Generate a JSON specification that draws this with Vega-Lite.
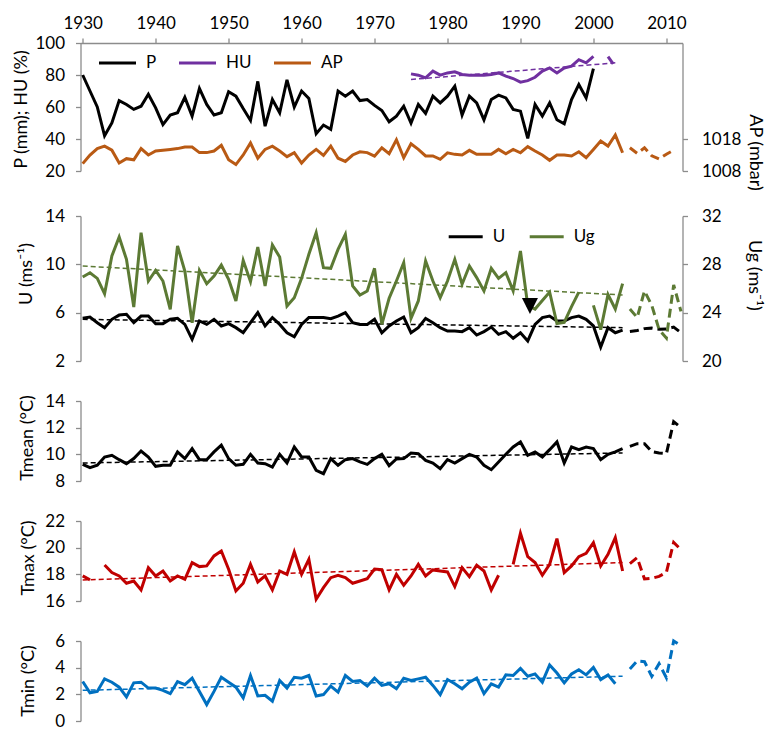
{
"$schema":"https://vega.github.io/schema/vega-lite/v6.json",
"background":"white",
"padding":{"left":11.5,"top":14,"right":5,"bottom":0},
"autosize":{"type":"pad"},
"config":{"font":"Lato","view":{"stroke":null},
"axis":{"domainColor":"#8c8c8c","tickColor":"#8c8c8c","domainWidth":1.3,"tickWidth":1.3,"tickSize":5,"labelFont":"Lato","labelFontSize":17,"labelColor":"#000000","titleFont":"Lato","titleFontSize":18,"titleFontWeight":"normal","titleColor":"#000000","grid":false,"labelFlush":false,"labelOverlap":false}},
"datasets":{"d":[
{"yr":1930,"P":80,"AP":1010.3,"U":5.53,"Ug":26.95,"Tm":9.25,"Tx":17.88,"Tn":2.96,"Ut":5.45,"Ugt":27.86,"Tmt":9.35,"Txt":17.58,"Tnt":2.3},
{"yr":1931,"P":70,"AP":1013,"U":5.64,"Ug":27.3,"Tm":9.0,"Tx":17.58,"Tn":2.12},
{"yr":1932,"P":60,"AP":1015,"U":5.17,"Ug":26.84,"Tm":9.18,"Tx":null,"Tn":2.22},
{"yr":1933,"P":42,"AP":1015.75,"U":4.76,"Ug":25.57,"Tm":9.8,"Tx":18.7,"Tn":3.16},
{"yr":1934,"P":50,"AP":1014.5,"U":5.45,"Ug":28.69,"Tm":9.93,"Tx":18.13,"Tn":2.91},
{"yr":1935,"P":64,"AP":1010.5,"U":5.8,"Ug":30.26,"Tm":9.6,"Tx":17.88,"Tn":2.54},
{"yr":1936,"P":61.6,"AP":1011.85,"U":5.86,"Ug":28.41,"Tm":9.3,"Tx":17.33,"Tn":1.8},
{"yr":1937,"P":58.5,"AP":1011.5,"U":5.17,"Ug":24.47,"Tm":9.68,"Tx":17.5,"Tn":2.86},
{"yr":1938,"P":60.5,"AP":1015,"U":5.72,"Ug":30.62,"Tm":10.25,"Tx":16.83,"Tn":2.91},
{"yr":1939,"P":68,"AP":1013,"U":5.72,"Ug":26.62,"Tm":9.8,"Tx":18.5,"Tn":2.47},
{"yr":1940,"P":59.5,"AP":1014.25,"U":5.09,"Ug":27.5,"Tm":9.1,"Tx":17.88,"Tn":2.47},
{"yr":1941,"P":49,"AP":1014.5,"U":5.09,"Ug":26.62,"Tm":9.18,"Tx":18.25,"Tn":2.3},
{"yr":1942,"P":55,"AP":1014.75,"U":5.45,"Ug":24.28,"Tm":9.18,"Tx":17.5,"Tn":2.05},
{"yr":1943,"P":56.4,"AP":1015,"U":5.53,"Ug":29.52,"Tm":10.18,"Tx":17.88,"Tn":2.96},
{"yr":1944,"P":66,"AP":1015.5,"U":5.03,"Ug":27.45,"Tm":9.68,"Tx":17.63,"Tn":2.72},
{"yr":1945,"P":54.3,"AP":1015.5,"U":3.79,"Ug":23.17,"Tm":10.43,"Tx":18.88,"Tn":3.21},
{"yr":1946,"P":71.6,"AP":1013.75,"U":5.31,"Ug":27.5,"Tm":9.6,"Tx":18.58,"Tn":2.22},
{"yr":1947,"P":61.6,"AP":1013.75,"U":5.03,"Ug":26.4,"Tm":9.6,"Tx":18.63,"Tn":1.23},
{"yr":1948,"P":55,"AP":1014.25,"U":5.45,"Ug":27.03,"Tm":10.18,"Tx":19.38,"Tn":2.22},
{"yr":1949,"P":56.4,"AP":1016,"U":4.9,"Ug":27.94,"Tm":10.68,"Tx":19.75,"Tn":3.28},
{"yr":1950,"P":69.5,"AP":1011.5,"U":5.09,"Ug":26.76,"Tm":9.68,"Tx":18.38,"Tn":2.91},
{"yr":1951,"P":66.8,"AP":1010,"U":4.76,"Ug":24.97,"Tm":9.18,"Tx":16.75,"Tn":2.54},
{"yr":1952,"P":59,"AP":1013,"U":4.34,"Ug":28.33,"Tm":9.25,"Tx":17.33,"Tn":1.73},
{"yr":1953,"P":51.6,"AP":1016.75,"U":5.17,"Ug":26.57,"Tm":10.0,"Tx":18.75,"Tn":3.41},
{"yr":1954,"P":76,"AP":1012,"U":6.0,"Ug":29.43,"Tm":9.35,"Tx":17.43,"Tn":1.88},
{"yr":1955,"P":48,"AP":1014.75,"U":4.9,"Ug":26.21,"Tm":9.3,"Tx":17.88,"Tn":1.93},
{"yr":1956,"P":64.7,"AP":1015.75,"U":5.59,"Ug":29.6,"Tm":9.05,"Tx":16.83,"Tn":1.48},
{"yr":1957,"P":56.4,"AP":1014.25,"U":5.03,"Ug":28.6,"Tm":10.0,"Tx":18.25,"Tn":3.04},
{"yr":1958,"P":77,"AP":1012.5,"U":4.34,"Ug":24.55,"Tm":9.35,"Tx":18.0,"Tn":2.47},
{"yr":1959,"P":60,"AP":1013.75,"U":4.01,"Ug":25.24,"Tm":10.55,"Tx":19.68,"Tn":3.28},
{"yr":1960,"P":70,"AP":1010.5,"U":5.03,"Ug":26.84,"Tm":9.8,"Tx":18.0,"Tn":3.21},
{"yr":1961,"P":65.3,"AP":1013,"U":5.59,"Ug":28.83,"Tm":9.8,"Tx":19.13,"Tn":3.41},
{"yr":1962,"P":43.3,"AP":1014.75,"U":5.59,"Ug":30.62,"Tm":8.8,"Tx":16.13,"Tn":1.88},
{"yr":1963,"P":48.7,"AP":1012.9,"U":5.59,"Ug":27.72,"Tm":8.55,"Tx":17.0,"Tn":1.98},
{"yr":1964,"P":46,"AP":1015.8,"U":5.5,"Ug":27.67,"Tm":9.68,"Tx":17.75,"Tn":2.62},
{"yr":1965,"P":70,"AP":1012,"U":5.72,"Ug":29.24,"Tm":9.18,"Tx":17.93,"Tn":2.17},
{"yr":1966,"P":66.8,"AP":1011,"U":6.0,"Ug":30.48,"Tm":9.6,"Tx":17.75,"Tn":3.41},
{"yr":1967,"P":70,"AP":1013,"U":5.17,"Ug":26.21,"Tm":9.68,"Tx":17.33,"Tn":2.96},
{"yr":1968,"P":64,"AP":1014,"U":5.03,"Ug":25.46,"Tm":9.43,"Tx":17.5,"Tn":3.04},
{"yr":1969,"P":64.7,"AP":1013.75,"U":5.03,"Ug":25.79,"Tm":9.25,"Tx":17.68,"Tn":2.62},
{"yr":1970,"P":61,"AP":1012.65,"U":5.45,"Ug":27.67,"Tm":9.68,"Tx":18.4,"Tn":3.21},
{"yr":1971,"P":57.8,"AP":1015.25,"U":4.34,"Ug":23.03,"Tm":10.0,"Tx":18.35,"Tn":2.67},
{"yr":1972,"P":50.8,"AP":1013.4,"U":4.9,"Ug":25.19,"Tm":9.15,"Tx":16.83,"Tn":2.8},
{"yr":1973,"P":54.3,"AP":1017.75,"U":5.31,"Ug":26.62,"Tm":9.65,"Tx":18.0,"Tn":2.42},
{"yr":1974,"P":60.5,"AP":1012.15,"U":5.64,"Ug":28.14,"Tm":9.68,"Tx":17.18,"Tn":3.21},
{"yr":1975,"P":50,"AP":1016.5,"HU":80.7,"HUt":77.2,"U":4.34,"Ug":23.53,"Tm":10.1,"Tx":17.88,"Tn":3.04},
{"yr":1976,"P":61.6,"AP":1014.75,"HU":79.9,"U":4.76,"Ug":24.97,"Tm":10.05,"Tx":18.75,"Tn":3.16},
{"yr":1977,"P":56,"AP":1012.7,"HU":78.2,"U":5.53,"Ug":28.28,"Tm":9.55,"Tx":17.88,"Tn":3.28},
{"yr":1978,"P":66.8,"AP":1012.7,"HU":82.4,"U":5.17,"Ug":26.62,"Tm":9.35,"Tx":18.33,"Tn":2.67},
{"yr":1979,"P":62.6,"AP":1011.65,"HU":79.9,"U":4.76,"Ug":25.24,"Tm":8.93,"Tx":18.25,"Tn":1.98},
{"yr":1980,"P":66.8,"AP":1013.7,"HU":81.3,"U":4.48,"Ug":26.62,"Tm":9.6,"Tx":18.18,"Tn":3.11},
{"yr":1981,"P":73,"AP":1013.2,"HU":82,"U":4.48,"Ug":28.41,"Tm":9.35,"Tx":17.08,"Tn":2.79},
{"yr":1982,"P":55,"AP":1013,"HU":80.3,"U":4.43,"Ug":26.35,"Tm":9.68,"Tx":18.5,"Tn":2.42},
{"yr":1983,"P":66.8,"AP":1014.45,"HU":79.9,"U":4.76,"Ug":27.86,"Tm":10.0,"Tx":17.83,"Tn":2.91},
{"yr":1984,"P":62.6,"AP":1013.2,"HU":79.9,"U":4.15,"Ug":26.9,"Tm":9.8,"Tx":18.68,"Tn":3.21},
{"yr":1985,"P":52,"AP":1013.2,"HU":79.9,"U":4.43,"Ug":25.79,"Tm":9.18,"Tx":18.25,"Tn":2.05},
{"yr":1986,"P":64.7,"AP":1013.2,"HU":80.3,"U":4.81,"Ug":27.67,"Tm":8.85,"Tx":16.83,"Tn":2.79},
{"yr":1987,"P":67.4,"AP":1014.75,"HU":81.3,"U":4.21,"Ug":26.84,"Tm":9.43,"Tx":17.93,"Tn":2.54},
{"yr":1988,"P":65.7,"AP":1013.4,"HU":79.3,"U":4.43,"Ug":27.31,"Tm":10.0,"Tx":null,"Tn":3.46},
{"yr":1989,"P":58.5,"AP":1014.75,"HU":77.8,"U":3.88,"Ug":25.8,"Tm":10.55,"Tx":18.75,"Tn":3.41},
{"yr":1990,"P":57.4,"AP":1013.7,"HU":75.5,"U":4.34,"Ug":29.1,"Tm":10.93,"Tx":21.08,"Tn":3.95},
{"yr":1991,"P":40.4,"AP":1015.6,"HU":76.5,"U":3.66,"Ug":24.6,"Tm":9.93,"Tx":19.33,"Tn":3.36},
{"yr":1992,"P":61.6,"AP":1014.25,"HU":78.6,"U":5.03,"Ug":24.3,"Tm":10.18,"Tx":18.88,"Tn":3.53},
{"yr":1993,"P":54.3,"AP":1013,"HU":82.4,"U":5.59,"Ug":25.0,"Tm":9.8,"Tx":17.93,"Tn":2.91},
{"yr":1994,"P":62.6,"AP":1011.35,"HU":84.4,"U":5.72,"Ug":25.7,"Tm":10.35,"Tx":18.75,"Tn":4.2},
{"yr":1995,"P":52,"AP":1013,"HU":81.3,"U":5.31,"Ug":23.1,"Tm":10.93,"Tx":20.68,"Tn":3.6},
{"yr":1996,"P":49.5,"AP":1013,"HU":84.4,"U":5.31,"Ug":23.2,"Tm":9.35,"Tx":18.13,"Tn":2.86},
{"yr":1997,"P":64.7,"AP":1012.7,"HU":85.5,"U":5.59,"Ug":24.5,"Tm":10.55,"Tx":18.63,"Tn":3.53},
{"yr":1998,"P":74,"AP":1014,"HU":89.6,"U":5.72,"Ug":25.7,"Tm":10.35,"Tx":19.33,"Tn":3.85},
{"yr":1999,"P":65.7,"AP":1012.15,"HU":87.6,"U":5.45,"Ug":null,"Tm":10.55,"Tx":19.58,"Tn":3.46},
{"yr":2000,"P":84,"AP":1014.75,"HU":91.7,"U":4.9,"Ug":24.6,"Tm":10.43,"Tx":20.38,"Tn":4.02},
{"yr":2001,"AP":1017.35,"U":3.16,"Ug":22.6,"Tm":9.6,"Tx":18.63,"Tn":3.11},
{"yr":2002,"AP":1015.8,"HUe":91.5,"U":4.76,"Ug":25.5,"Tm":10.0,"Tx":19.5,"Tn":3.46},
{"yr":2003,"AP":1019.25,"HUe":85,"HUt":87.6,"U":4.34,"Ug":24.3,"Tm":10.18,"Tx":20.75,"Tn":2.79},
{"yr":2004,"AP":1013.7,"U":4.55,"Ug":26.4,"Tm":10.43,"Tx":18.25,"Ut":4.76,"Ugt":25.46,"Tmt":10.1,"Txt":18.88,"Tnt":3.36},
{"yr":2005,"APe":1015.25,"Ue":4.45,"Uge":24.3,"Tme":10.6,"Txe":18.8,"Tne":3.9},
{"yr":2006,"APe":1013.5,"Ue":4.52,"Uge":23.6,"Tme":10.8,"Txe":19.25,"Tne":4.5},
{"yr":2007,"APe":1015.25,"Ue":4.68,"Uge":25.8,"Tme":10.8,"Txe":17.65,"Tne":4.45},
{"yr":2008,"APe":1012.75,"Ue":4.72,"Uge":24.6,"Tme":10.2,"Txe":17.7,"Tne":3.35},
{"yr":2009,"APe":1011.75,"Ue":4.62,"Uge":22.6,"Tme":10.1,"Txe":17.85,"Tne":4.3},
{"yr":2010,"APe":1013.25,"Ue":4.65,"Uge":21.9,"Tme":10.05,"Txe":18.15,"Tne":3.25},
{"yr":2011,"APe":1014.5,"Ue":4.8,"Uge":26.3,"Tme":12.45,"Txe":20.4,"Tne":6.0},
{"yr":2012,"Ue":4.35,"Uge":24.1,"Tme":12.0,"Txe":19.85,"Tne":5.65}
]},
"data":{"name":"d"},
"spacing":45,
"bounds":"flush",
"resolve":{"scale":{"color":"independent"},"legend":{"color":"independent"}},
"vconcat":[
{
"width":602,"height":128,
"encoding":{"x":{"field":"yr","type":"quantitative","scale":{"domain":[1929.7,2012.21],"nice":false,"zero":false},"axis":{"orient":"top","values":[1930,1940,1950,1960,1970,1980,1990,2000,2010],"format":"d","title":null,"labelPadding":6}}},
"resolve":{"scale":{"y":"independent"}},
"layer":[
{"layer":[
{"mark":{"type":"line","strokeWidth":3,"invalid":"break-paths-show-domains"},
"encoding":{"y":{"field":"P","type":"quantitative","scale":{"domain":[20,100],"nice":false,"zero":false},"axis":{"orient":"left","values":[20,40,60,80,100],"title":"P (mm); HU (%)","titleAngle":-90,"titleX":-59.5,"titleY":66,"titleBaseline":"middle","labelPadding":11}},
"color":{"datum":"P","scale":{"domain":["P","HU","AP"],"range":["#000000","#7030A0","#B95A14"]},"legend":{"title":null,"orient":"none","legendX":17,"legendY":0,"direction":"horizontal","gridAlign":"each","symbolType":"stroke","symbolSize":1369,"symbolStrokeWidth":3,"labelFont":"Lato","labelFontSize":17,"labelColor":"#000000","labelOffset":8.5,"columnPadding":16,"padding":0}}}},
{"mark":{"type":"line","strokeWidth":3,"invalid":"break-paths-show-domains"},
"encoding":{"y":{"field":"HU","type":"quantitative","scale":{"domain":[20,100],"nice":false,"zero":false},"axis":{"orient":"left","values":[20,40,60,80,100],"title":"P (mm); HU (%)","titleAngle":-90,"titleX":-59.5,"titleY":66,"titleBaseline":"middle","labelPadding":11}},
"color":{"datum":"HU","scale":{"domain":["P","HU","AP"],"range":["#000000","#7030A0","#B95A14"]},"legend":null}}},
{"mark":{"type":"line","strokeWidth":3,"strokeDash":[9,5],"invalid":"break-paths-show-domains"},
"encoding":{"y":{"field":"HUe","type":"quantitative","scale":{"domain":[20,100],"nice":false,"zero":false},"axis":{"orient":"left","values":[20,40,60,80,100],"title":"P (mm); HU (%)","titleAngle":-90,"titleX":-59.5,"titleY":66,"titleBaseline":"middle","labelPadding":11}},
"color":{"datum":"HU","scale":{"domain":["P","HU","AP"],"range":["#000000","#7030A0","#B95A14"]},"legend":null}}},
{"mark":{"type":"line","strokeWidth":1.5,"strokeDash":[5,3],"invalid":"filter"},
"encoding":{"y":{"field":"HUt","type":"quantitative","scale":{"domain":[20,100],"nice":false,"zero":false},"axis":{"orient":"left","values":[20,40,60,80,100],"title":"P (mm); HU (%)","titleAngle":-90,"titleX":-59.5,"titleY":66,"titleBaseline":"middle","labelPadding":11}},
"color":{"datum":"HU","scale":{"domain":["P","HU","AP"],"range":["#000000","#7030A0","#B95A14"]},"legend":null}}}
]},
{"layer":[
{"mark":{"type":"line","strokeWidth":3,"invalid":"break-paths-show-domains"},
"encoding":{"y":{"field":"AP","type":"quantitative","scale":{"domain":[1008,1048],"nice":false,"zero":false},"axis":{"orient":"right","values":[1008,1018],"format":"d","title":"AP (mbar)","titleAngle":90,"titleX":72,"titleY":109,"titleBaseline":"middle","labelPadding":14}},
"color":{"datum":"AP","scale":{"domain":["P","HU","AP"],"range":["#000000","#7030A0","#B95A14"]},"legend":null}}},
{"mark":{"type":"line","strokeWidth":3,"strokeDash":[9,5],"invalid":"break-paths-show-domains"},
"encoding":{"y":{"field":"APe","type":"quantitative","scale":{"domain":[1008,1048],"nice":false,"zero":false},"axis":{"orient":"right","values":[1008,1018],"format":"d","title":"AP (mbar)","titleAngle":90,"titleX":72,"titleY":109,"titleBaseline":"middle","labelPadding":14}},
"color":{"datum":"AP","scale":{"domain":["P","HU","AP"],"range":["#000000","#7030A0","#B95A14"]},"legend":null}}}
]}
]
},
{
"spacing":40,
"bounds":"flush",
"resolve":{"scale":{"color":"independent"},"legend":{"color":"independent"}},
"vconcat":[
{
"width":602,"height":145,
"encoding":{"x":{"field":"yr","type":"quantitative","scale":{"domain":[1929.7,2012.21],"nice":false,"zero":false},"axis":null}},
"resolve":{"scale":{"y":"independent"}},
"layer":[
{"layer":[
{"mark":{"type":"line","strokeWidth":3,"invalid":"break-paths-show-domains"},
"encoding":{"y":{"field":"U","type":"quantitative","scale":{"domain":[2,14],"nice":false,"zero":false},"axis":{"orient":"left","values":[2,6,10,14],"title":"U (ms⁻¹)","titleAngle":-90,"titleX":-54.2,"titleY":57.5,"titleBaseline":"middle","labelPadding":11}},
"color":{"datum":"U","scale":{"domain":["U","Ug"],"range":["#000000","#5C7A34"]},"legend":{"title":null,"orient":"none","legendX":366.7,"legendY":2,"direction":"horizontal","gridAlign":"each","symbolType":"stroke","symbolSize":1156,"symbolStrokeWidth":3,"labelFont":"Lato","labelFontSize":17,"labelColor":"#000000","labelOffset":8.5,"columnPadding":17,"padding":0}}}},
{"mark":{"type":"line","strokeWidth":3,"strokeDash":[9,5],"invalid":"break-paths-show-domains"},
"encoding":{"y":{"field":"Ue","type":"quantitative","scale":{"domain":[2,14],"nice":false,"zero":false},"axis":{"orient":"left","values":[2,6,10,14],"title":"U (ms⁻¹)","titleAngle":-90,"titleX":-54.2,"titleY":57.5,"titleBaseline":"middle","labelPadding":11}},
"color":{"datum":"U","scale":{"domain":["U","Ug"],"range":["#000000","#5C7A34"]},"legend":null}}},
{"mark":{"type":"line","strokeWidth":1.5,"strokeDash":[5,3],"invalid":"filter"},
"encoding":{"y":{"field":"Ut","type":"quantitative","scale":{"domain":[2,14],"nice":false,"zero":false},"axis":{"orient":"left","values":[2,6,10,14],"title":"U (ms⁻¹)","titleAngle":-90,"titleX":-54.2,"titleY":57.5,"titleBaseline":"middle","labelPadding":11}},
"color":{"datum":"U","scale":{"domain":["U","Ug"],"range":["#000000","#5C7A34"]},"legend":null}}}
]},
{"layer":[
{"mark":{"type":"line","strokeWidth":3,"invalid":"break-paths-show-domains"},
"encoding":{"y":{"field":"Ug","type":"quantitative","scale":{"domain":[20,32],"nice":false,"zero":false},"axis":{"orient":"right","values":[20,24,28,32],"title":"Ug (ms⁻¹)","titleAngle":90,"titleX":70.5,"titleY":59,"titleBaseline":"middle","labelPadding":14}},
"color":{"datum":"Ug","scale":{"domain":["U","Ug"],"range":["#000000","#5C7A34"]},"legend":null}}},
{"mark":{"type":"line","strokeWidth":3,"strokeDash":[9,5],"invalid":"break-paths-show-domains"},
"encoding":{"y":{"field":"Uge","type":"quantitative","scale":{"domain":[20,32],"nice":false,"zero":false},"axis":{"orient":"right","values":[20,24,28,32],"title":"Ug (ms⁻¹)","titleAngle":90,"titleX":70.5,"titleY":59,"titleBaseline":"middle","labelPadding":14}},
"color":{"datum":"Ug","scale":{"domain":["U","Ug"],"range":["#000000","#5C7A34"]},"legend":null}}},
{"mark":{"type":"line","strokeWidth":1.5,"strokeDash":[5,3],"invalid":"filter"},
"encoding":{"y":{"field":"Ugt","type":"quantitative","scale":{"domain":[20,32],"nice":false,"zero":false},"axis":{"orient":"right","values":[20,24,28,32],"title":"Ug (ms⁻¹)","titleAngle":90,"titleX":70.5,"titleY":59,"titleBaseline":"middle","labelPadding":14}},
"color":{"datum":"Ug","scale":{"domain":["U","Ug"],"range":["#000000","#5C7A34"]},"legend":null}}},
{"data":{"values":[{"yr":1991.3,"Ug":24.55}]},
"mark":{"type":"point","shape":"M-1,-1L1,-1L0,1Z","size":256,"filled":true,"color":"#000000","opacity":1},
"encoding":{"y":{"field":"Ug","type":"quantitative","scale":{"domain":[20,32],"nice":false,"zero":false},"axis":{"orient":"right","values":[20,24,28,32],"title":"Ug (ms⁻¹)","titleAngle":90,"titleX":70.5,"titleY":59,"titleBaseline":"middle","labelPadding":14}}}}
]}
]
},
{
"width":602,"height":80,
"encoding":{"x":{"field":"yr","type":"quantitative","scale":{"domain":[1929.7,2012.21],"nice":false,"zero":false},"axis":null}},
"layer":[
{"mark":{"type":"line","strokeWidth":3,"color":"#000000","invalid":"break-paths-show-domains"},
"encoding":{"y":{"field":"Tm","type":"quantitative","scale":{"domain":[8,14],"nice":false,"zero":false},"axis":{"orient":"left","values":[8,10,12,14],"title":"Tmean (°C)","titleAngle":-90,"titleX":-53.3,"titleY":36.5,"titleBaseline":"middle","labelPadding":11}}}},
{"mark":{"type":"line","strokeWidth":3,"color":"#000000","strokeDash":[9,5],"invalid":"break-paths-show-domains"},
"encoding":{"y":{"field":"Tme","type":"quantitative","scale":{"domain":[8,14],"nice":false,"zero":false},"axis":{"orient":"left","values":[8,10,12,14],"title":"Tmean (°C)","titleAngle":-90,"titleX":-53.3,"titleY":36.5,"titleBaseline":"middle","labelPadding":11}}}},
{"mark":{"type":"line","strokeWidth":1.5,"color":"#000000","strokeDash":[5,3],"invalid":"filter"},
"encoding":{"y":{"field":"Tmt","type":"quantitative","scale":{"domain":[8,14],"nice":false,"zero":false},"axis":{"orient":"left","values":[8,10,12,14],"title":"Tmean (°C)","titleAngle":-90,"titleX":-53.3,"titleY":36.5,"titleBaseline":"middle","labelPadding":11}}}}
]
},
{
"width":602,"height":80,
"encoding":{"x":{"field":"yr","type":"quantitative","scale":{"domain":[1929.7,2012.21],"nice":false,"zero":false},"axis":null}},
"layer":[
{"mark":{"type":"line","strokeWidth":3,"color":"#C00000","invalid":"break-paths-show-domains"},
"encoding":{"y":{"field":"Tx","type":"quantitative","scale":{"domain":[16,22],"nice":false,"zero":false},"axis":{"orient":"left","values":[16,18,20,22],"title":"Tmax (°C)","titleAngle":-90,"titleX":-52.5,"titleY":36.5,"titleBaseline":"middle","labelPadding":11}}}},
{"mark":{"type":"line","strokeWidth":3,"color":"#C00000","strokeDash":[9,5],"invalid":"break-paths-show-domains"},
"encoding":{"y":{"field":"Txe","type":"quantitative","scale":{"domain":[16,22],"nice":false,"zero":false},"axis":{"orient":"left","values":[16,18,20,22],"title":"Tmax (°C)","titleAngle":-90,"titleX":-52.5,"titleY":36.5,"titleBaseline":"middle","labelPadding":11}}}},
{"mark":{"type":"line","strokeWidth":1.5,"color":"#C00000","strokeDash":[5,3],"invalid":"filter"},
"encoding":{"y":{"field":"Txt","type":"quantitative","scale":{"domain":[16,22],"nice":false,"zero":false},"axis":{"orient":"left","values":[16,18,20,22],"title":"Tmax (°C)","titleAngle":-90,"titleX":-52.5,"titleY":36.5,"titleBaseline":"middle","labelPadding":11}}}}
]
},
{
"width":602,"height":80,
"encoding":{"x":{"field":"yr","type":"quantitative","scale":{"domain":[1929.7,2012.21],"nice":false,"zero":false},"axis":null}},
"layer":[
{"mark":{"type":"line","strokeWidth":3,"color":"#0070C0","invalid":"break-paths-show-domains"},
"encoding":{"y":{"field":"Tn","type":"quantitative","scale":{"domain":[0,6],"nice":false,"zero":false},"axis":{"orient":"left","values":[0,2,4,6],"title":"Tmin (°C)","titleAngle":-90,"titleX":-52.5,"titleY":39.5,"titleBaseline":"middle","labelPadding":11}}}},
{"mark":{"type":"line","strokeWidth":3,"color":"#0070C0","strokeDash":[9,5],"invalid":"break-paths-show-domains"},
"encoding":{"y":{"field":"Tne","type":"quantitative","scale":{"domain":[0,6],"nice":false,"zero":false},"axis":{"orient":"left","values":[0,2,4,6],"title":"Tmin (°C)","titleAngle":-90,"titleX":-52.5,"titleY":39.5,"titleBaseline":"middle","labelPadding":11}}}},
{"mark":{"type":"line","strokeWidth":1.5,"color":"#0070C0","strokeDash":[5,3],"invalid":"filter"},
"encoding":{"y":{"field":"Tnt","type":"quantitative","scale":{"domain":[0,6],"nice":false,"zero":false},"axis":{"orient":"left","values":[0,2,4,6],"title":"Tmin (°C)","titleAngle":-90,"titleX":-52.5,"titleY":39.5,"titleBaseline":"middle","labelPadding":11}}}}
]
}
]
}
]
}
